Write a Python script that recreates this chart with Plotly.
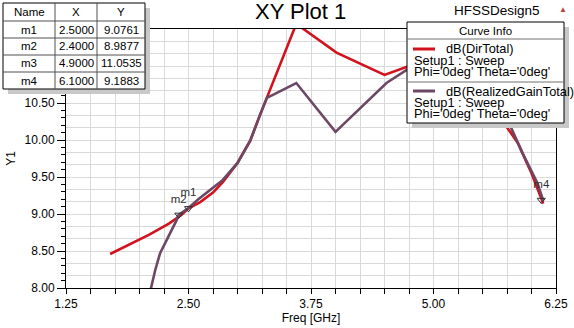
import plotly.graph_objects as go

# ---------------- data ----------------
dir_freq = [1.70, 1.90, 2.10, 2.30, 2.43, 2.50, 2.62, 2.75, 2.85, 3.00, 3.13, 3.23, 3.30,
            3.60, 4.01, 4.50, 4.73, 4.90, 5.20, 5.50, 5.72, 5.86, 6.00, 6.10, 6.12]
dir_db = [8.46, 8.59, 8.72, 8.87, 8.99, 9.076, 9.16, 9.29, 9.43, 9.69, 9.99, 10.34, 10.57,
          11.57, 11.18, 10.88, 10.99, 11.05, 10.95, 10.62, 10.23, 9.96, 9.55, 9.19, 9.14]

rg_freq = [2.10, 2.16, 2.21, 2.28, 2.38, 2.40, 2.45, 2.50, 2.60, 2.75, 2.85, 3.00, 3.13,
           3.23, 3.30, 3.60, 4.00, 4.52, 4.73, 4.90, 5.20, 5.50, 5.77, 5.91, 6.06, 6.12]
rg_db = [7.90, 8.24, 8.47, 8.65, 8.92, 8.988, 9.04, 9.08, 9.20, 9.35, 9.46, 9.69, 9.99,
         10.34, 10.57, 10.77, 10.11, 10.77, 10.95, 11.05, 10.97, 10.65, 10.23, 9.82, 9.42, 9.18]

marker_names = ["m1", "m2", "m3", "m4"]
marker_x = [2.5000, 2.4000, 4.9000, 6.1000]
marker_y = [9.0761, 8.9877, 11.0535, 9.1883]

x_range = [1.25, 6.25]
y_range = [8.0, 11.5]
y_ticks = [8.0, 8.5, 9.0, 9.5, 10.0, 10.5]

RED = "#d2121c"
PURPLE = "#6c4864"
GRID = "#d9d9d9"
FONT = "Liberation Sans, Arial, sans-serif"

# plot area in pixels
L, R, T, B = 66, 556, 29, 288


def px(x):
    return (x - L) / (R - L)


def py(y):
    return (B - y) / (B - T)


fig = go.Figure()

fig.add_trace(go.Scatter(x=dir_freq, y=dir_db, mode="lines",
                         line=dict(color=RED, width=2.6), hoverinfo="skip"))
fig.add_trace(go.Scatter(x=rg_freq, y=rg_db, mode="lines",
                         line=dict(color=PURPLE, width=2.6), hoverinfo="skip"))
# markers
fig.add_trace(go.Scatter(x=marker_x, y=marker_y, mode="markers",
                         marker=dict(symbol="triangle-down-open", size=7,
                                     color="#303030", line=dict(width=1, color="#303030")),
                         hoverinfo="skip"))
# marker labels (as trace text so the legend box covers m3)
fig.add_trace(go.Scatter(x=marker_x, y=marker_y, mode="markers+text", text=marker_names,
                         textposition="top center",
                         textfont=dict(family=FONT, size=11.5, color="#303030"),
                         marker=dict(size=13, color="rgba(0,0,0,0)"),
                         hoverinfo="skip"))
# helper trace on grid axis
fig.add_trace(go.Scatter(x=[None], y=[None], yaxis="y2", hoverinfo="skip"))

annotations = []
shapes = []

# ---------------- marker table ----------------
tx0, tx1, ty0, ty1 = 3, 145, 3, 89
col_lines = [55, 97]
row_lines = [21, 38, 55, 72]
shapes.append(dict(type="rect", xref="paper", yref="paper", x0=px(tx0 + 5), x1=px(tx1 + 5),
                   y0=py(ty0 + 5), y1=py(ty1 + 5), fillcolor="#c8c8c8", line=dict(width=0),
                   layer="above"))
shapes.append(dict(type="rect", xref="paper", yref="paper", x0=px(tx0), x1=px(tx1),
                   y0=py(ty0), y1=py(ty1), fillcolor="white", line=dict(width=1, color="black"),
                   layer="above"))
for cx in col_lines:
    shapes.append(dict(type="line", xref="paper", yref="paper", x0=px(cx), x1=px(cx),
                       y0=py(ty0), y1=py(ty1), line=dict(width=1, color="#505050"), layer="above"))
for ry in row_lines:
    shapes.append(dict(type="line", xref="paper", yref="paper", x0=px(tx0), x1=px(tx1),
                       y0=py(ry), y1=py(ry), line=dict(width=1, color="#505050"), layer="above"))
col_cent = [(tx0 + col_lines[0]) / 2, (col_lines[0] + col_lines[1]) / 2, (col_lines[1] + tx1) / 2]
row_cent = [(ty0 + row_lines[0]) / 2] + [(row_lines[i] + (row_lines + [ty1])[i + 1]) / 2
                                          for i in range(len(row_lines))]
tfont = dict(family=FONT, size=11.5, color="black")
for c, h in zip(col_cent, ["Name", "X", "Y"]):
    annotations.append(dict(x=px(c), y=py(row_cent[0]), xref="paper", yref="paper", text=h,
                            showarrow=False, xanchor="center", yanchor="middle", font=tfont))
for i, (n, mx, my) in enumerate(zip(marker_names, marker_x, marker_y)):
    for c, t in zip(col_cent, [n, f"{mx:.4f}", f"{my:.4f}"]):
        annotations.append(dict(x=px(c), y=py(row_cent[i + 1]), xref="paper", yref="paper",
                                text=t, showarrow=False, xanchor="center", yanchor="middle",
                                font=tfont))

# ---------------- curve info legend ----------------
lx0, lx1, ly0, ly1 = 407, 564, 22, 123
shapes.append(dict(type="rect", xref="paper", yref="paper", x0=px(lx0 + 5), x1=px(lx1 + 5),
                   y0=py(ly0 + 5), y1=py(ly1 + 5), fillcolor="#c8c8c8", line=dict(width=0),
                   layer="above"))
shapes.append(dict(type="rect", xref="paper", yref="paper", x0=px(lx0), x1=px(lx1),
                   y0=py(ly0), y1=py(ly1), fillcolor="white", line=dict(width=1, color="black"),
                   layer="above"))
for sy in [39, 82]:
    shapes.append(dict(type="line", xref="paper", yref="paper", x0=px(lx0), x1=px(lx1),
                       y0=py(sy), y1=py(sy), line=dict(width=1, color="#707070"), layer="above"))
lfont = dict(family=FONT, size=12.8, color="black")
annotations.append(dict(x=px((lx0 + lx1) / 2), y=py(31), xref="paper", yref="paper",
                        text="Curve Info", showarrow=False, xanchor="center", yanchor="middle",
                        font=dict(family=FONT, size=11.5, color="black")))
legend_entries = [("dB(DirTotal)", RED, 49), ("dB(RealizedGainTotal)", PURPLE, 91)]
for name, col, yy in legend_entries:
    shapes.append(dict(type="line", xref="paper", yref="paper", x0=px(413), x1=px(435),
                       y0=py(yy), y1=py(yy), line=dict(width=3, color=col), layer="above"))
    annotations.append(dict(x=px(444), y=py(yy), xref="paper", yref="paper", text=name,
                            showarrow=False, xanchor="left", yanchor="middle", font=lfont))
    annotations.append(dict(x=px(412), y=py(yy + 11), xref="paper", yref="paper",
                            text="Setup1 : Sweep", showarrow=False, xanchor="left",
                            yanchor="middle", font=lfont))
    annotations.append(dict(x=px(412), y=py(yy + 22), xref="paper", yref="paper",
                            text="Phi='0deg' Theta='0deg'", showarrow=False, xanchor="left",
                            yanchor="middle", font=lfont))

# ---------------- titles ----------------
annotations.append(dict(x=px(300), y=py(12), xref="paper", yref="paper", text="XY Plot 1",
                        showarrow=False, xanchor="center", yanchor="middle",
                        font=dict(family=FONT, size=22, color="black")))
annotations.append(dict(x=px(452), y=py(11), xref="paper", yref="paper", text="HFSSDesign5",
                        showarrow=False, xanchor="left", yanchor="middle",
                        font=dict(family=FONT, size=13.5, color="black")))
annotations.append(dict(x=px(563), y=py(10), xref="paper", yref="paper", text="▲",
                        showarrow=False, xanchor="center", yanchor="middle",
                        font=dict(family=FONT, size=8, color="#b84040")))

fig.update_layout(
    width=574, height=328, autosize=False,
    margin=dict(l=L, r=574 - R, t=T, b=328 - B, pad=0, autoexpand=False),
    paper_bgcolor="white", plot_bgcolor="white",
    showlegend=False,
    font=dict(family=FONT, size=12, color="black"),
    xaxis=dict(range=x_range, tick0=1.25, dtick=1.25, tickformat=".2f", automargin=False,
               ticks="outside", ticklen=5, tickcolor="black", showline=True,
               linecolor="black", linewidth=1, mirror=True, showgrid=True, gridcolor=GRID,
               zeroline=False, tickfont=dict(size=12),
               minor=dict(dtick=0.25, tick0=1.25, ticks="outside", ticklen=5,
                          tickcolor="black", showgrid=True, gridcolor=GRID),
               title=dict(text="Freq [GHz]", standoff=2, font=dict(size=12))),
    yaxis=dict(range=y_range, tickmode="array", tickvals=y_ticks, tickformat=".2f",
               automargin=False,
               ticks="outside", ticklen=8, tickcolor="black", showline=True,
               linecolor="black", linewidth=1, mirror=True, showgrid=False,
               zeroline=False, tickfont=dict(size=12),
               minor=dict(dtick=0.1, tick0=8.0, ticks="outside", ticklen=4,
                          tickcolor="black", showgrid=False),
               title=dict(text="Y1", standoff=6, font=dict(size=12))),
    yaxis2=dict(range=y_range, overlaying="y", side="left", tick0=8.0, dtick=1 / 6,
                showticklabels=False, ticks="", showgrid=True, gridcolor=GRID,
                zeroline=False, showline=False, automargin=False),
    shapes=shapes,
    annotations=annotations,
)

fig.write_html("out.html")
